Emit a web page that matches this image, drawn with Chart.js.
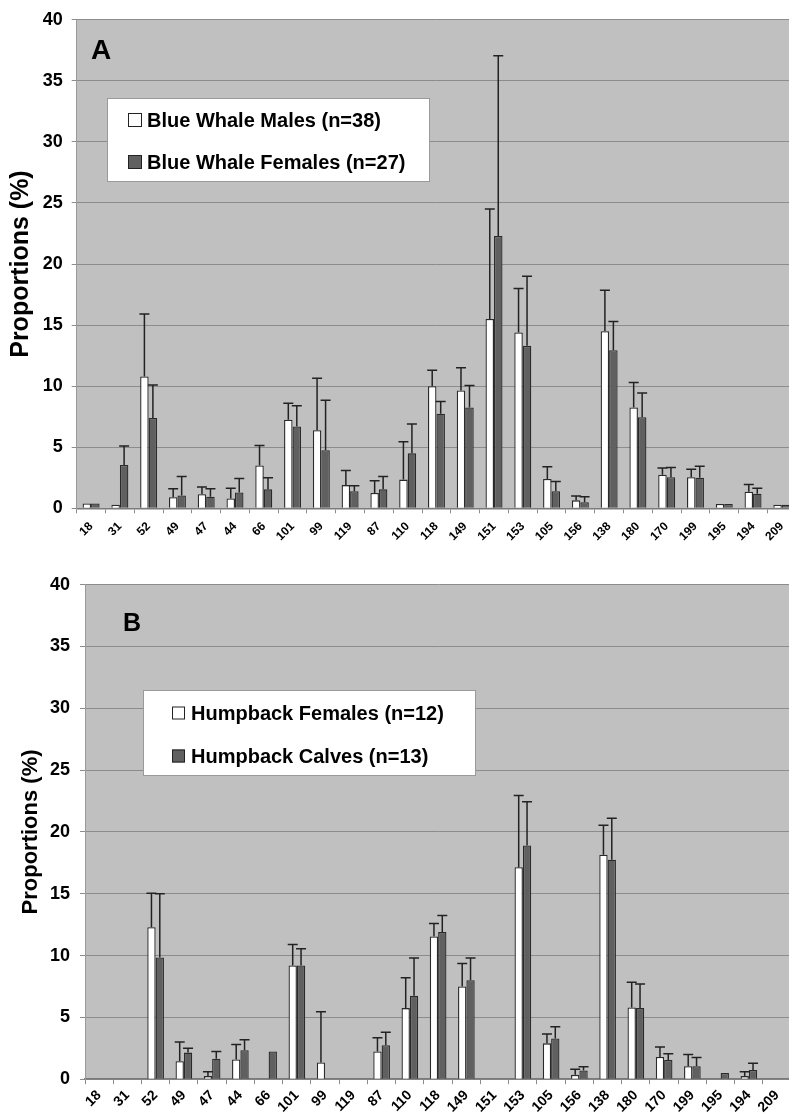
<!DOCTYPE html>
<html>
<head>
<meta charset="utf-8">
<title>Allele proportions - blue and humpback whales</title>
<script src="https://cdn.jsdelivr.net/npm/chart.js@4.4.1/dist/chart.umd.min.js"></script>
<style>
  html, body { margin: 0; padding: 0; background: #fff; overflow: hidden; }
  body { width: 789px; height: 1113px; position: relative; }
  .panel { position: absolute; left: 0; }
  #panelA { top: 0; width: 798px; height: 550px; }
  #panelB { top: 560px; width: 792px; height: 553px; }
</style>
</head>
<body>
<div class="panel" id="panelA"><canvas id="chartA"></canvas></div>
<div class="panel" id="panelB"><canvas id="chartB"></canvas></div>

<script>
// --- Data ---
const alleles = ['18', '31', '52', '49', '47', '44', '66', '101', '99', '119', '87', '110', '118',
                 '149', '151', '153', '105', '156', '138', '180', '170', '199', '195', '194', '209'];
const yTicks = [0, 5, 10, 15, 20, 25, 30, 35, 40];

// Panel A: blue whales (mean proportion and upper SD)
const blueMales     = [0.4, 0.3, 10.8, 0.9, 1.15, 0.8, 3.5, 7.25, 6.4, 1.9, 1.25, 2.35, 10.0, 9.65, 15.5, 14.4, 2.4, 0.65, 14.5, 8.25, 2.75, 2.55, 0.35, 1.35, 0.3];
const blueMalesSd   = [0, 0, 5.1, 0.7, 0.6, 0.85, 1.65, 1.35, 4.25, 1.2, 1.0, 3.1, 1.3, 1.85, 9.0, 3.6, 1.0, 0.35, 3.35, 2.05, 0.55, 0.65, 0, 0.6, 0];
const blueFemales   = [0.4, 3.55, 7.4, 1.05, 0.95, 1.3, 1.55, 6.7, 4.75, 1.4, 1.55, 4.5, 7.75, 8.25, 22.3, 13.3, 1.4, 0.5, 12.95, 7.45, 2.55, 2.5, 0.35, 1.2, 0.3];
const blueFemalesSd = [0, 1.55, 2.7, 1.55, 0.65, 1.15, 0.95, 1.7, 4.1, 0.45, 1.05, 2.4, 1.0, 1.8, 14.75, 5.7, 0.8, 0.45, 2.35, 2.0, 0.8, 0.95, 0, 0.45, 0];

// Panel B: humpback whales
const humpFemales   = [0, 0, 12.3, 1.45, 0.25, 1.6, 0, 9.2, 1.35, 0, 2.25, 5.75, 11.55, 7.5, 0, 17.15, 2.9, 0.35, 18.15, 5.8, 1.8, 1.05, 0, 0.25, 0];
const humpFemalesSd = [0, 0, 2.75, 1.55, 0.35, 1.2, 0, 1.7, 4.1, 0, 1.1, 2.45, 1.05, 1.85, 0, 5.8, 0.75, 0.45, 2.4, 2.05, 0.8, 0.95, 0, 0.35, 0];
const humpCalves    = [0, 0, 9.85, 2.15, 1.65, 2.35, 2.25, 9.2, 0, 0, 2.75, 6.75, 11.9, 8.0, 0, 18.9, 3.3, 0.7, 17.75, 5.75, 1.55, 1.05, 0.5, 0.75, 0];
const humpCalvesSd  = [0, 0, 5.15, 0.35, 0.6, 0.85, 0, 1.35, 0, 0, 1.05, 3.05, 1.35, 1.8, 0, 3.55, 0.95, 0.3, 3.35, 1.95, 0.5, 0.7, 0, 0.55, 0];

const blueLabels = ['Blue Whale Males (n=38)', 'Blue Whale Females (n=27)'];
const humpLabels = ['Humpback Females (n=12)', 'Humpback Calves (n=13)'];
const yTitle = 'Proportions (%)';

const FONT = '"Liberation Sans", Arial, sans-serif';
const WHITE = '#ffffff';
const DARK = '#606060';

// Grey plot area like the Excel original
const plotBackground = {
    id: 'plotBackground',
    beforeDraw(chart) {
        const { ctx, chartArea: a } = chart;
        ctx.save();
        ctx.fillStyle = '#c0c0c0';
        ctx.fillRect(a.left, a.top, a.right - a.left, a.bottom - a.top);
        ctx.restore();
    }
};

// Upper error bars (mean + SD) on each bar
const errorBars = {
    id: 'errorBars',
    afterDatasetsDraw(chart, args, opts) {
        const { ctx } = chart;
        const y = chart.scales.y;
        ctx.save();
        ctx.strokeStyle = '#222';
        ctx.lineWidth = 1.5;
        chart.data.datasets.forEach((ds, i) => {
            chart.getDatasetMeta(i).data.forEach((bar, j) => {
                const sd = ds.sd[j];
                if (!sd) return;
                const top = y.getPixelForValue(ds.data[j] + sd);
                ctx.beginPath();
                ctx.moveTo(bar.x, bar.y);
                ctx.lineTo(bar.x, top);
                ctx.moveTo(bar.x - opts.cap, top);
                ctx.lineTo(bar.x + opts.cap, top);
                ctx.stroke();
            });
        });
        ctx.restore();
    }
};

// Panel letter and boxed legend inside the plot
const panelDecor = {
    id: 'panelDecor',
    afterDraw(chart, args, o) {
        const { ctx } = chart;
        ctx.save();
        ctx.fillStyle = '#000';
        ctx.font = `bold ${o.letterSize}px ${FONT}`;
        ctx.textBaseline = 'alphabetic';
        ctx.fillText(o.letter, o.letterX, o.letterY);

        const L = o.legend;
        ctx.fillStyle = '#fff';
        ctx.fillRect(L.x, L.y, L.w, L.h);
        ctx.strokeStyle = '#9a9a9a';
        ctx.lineWidth = 1;
        ctx.strokeRect(L.x + 0.5, L.y + 0.5, L.w, L.h);

        ctx.font = `bold 20px ${FONT}`;
        ctx.textBaseline = 'middle';
        chart.data.datasets.forEach((ds, i) => {
            const cy = L.rows[i];
            ctx.fillStyle = ds.backgroundColor;
            ctx.fillRect(L.swatchX, cy - L.swatch / 2, L.swatch, L.swatch);
            ctx.strokeStyle = '#222';
            ctx.strokeRect(L.swatchX + 0.5, cy - L.swatch / 2 + 0.5, L.swatch - 1, L.swatch - 1);
            ctx.fillStyle = '#000';
            ctx.fillText(ds.label, L.textX, cy + 1);
        });
        ctx.restore();
    }
};

function makePanel(canvasId, p) {
    const ctx = document.getElementById(canvasId).getContext('2d');
    return new Chart(ctx, {
        type: 'bar',
        data: {
            labels: alleles,
            datasets: [
                { label: p.labels[0], data: p.first, sd: p.firstSd, backgroundColor: WHITE,
                  borderColor: '#2a2a2a', borderWidth: 1.3, borderSkipped: 'bottom' },
                { label: p.labels[1], data: p.second, sd: p.secondSd, backgroundColor: DARK,
                  borderColor: '#2a2a2a', borderWidth: 1.3, borderSkipped: 'bottom' }
            ]
        },
        options: {
            responsive: true,
            maintainAspectRatio: false,
            animation: false,
            layout: { padding: { top: p.padTop, right: 0, left: 0, bottom: 0 } },
            datasets: { bar: { categoryPercentage: 0.59, barPercentage: 1.0 } },
            scales: {
                x: {
                    grid: { offset: true, drawOnChartArea: false, drawTicks: true, tickLength: 5, color: '#8c8c8c' },
                    border: { color: '#7a7a7a', width: 1.5 },
                    ticks: {
                        autoSkip: false, maxRotation: 45, minRotation: 45,
                        padding: p.xPad, color: '#000',
                        font: { family: FONT, size: p.xFont, weight: 'bold' }
                    },
                    afterFit: s => { s.height = p.xHeight; }
                },
                y: {
                    min: 0, max: 40,
                    afterBuildTicks: s => { s.ticks = yTicks.map(v => ({ value: v })); },
                    grid: { color: '#8c8c8c', tickLength: 5 },
                    border: { color: '#9a9a9a' },
                    ticks: {
                        padding: p.yPad, color: '#000',
                        font: { family: FONT, size: 18, weight: 'bold' }
                    },
                    title: {
                        display: true, text: yTitle, color: '#000',
                        font: { family: FONT, size: p.titleSize, weight: 'bold' },
                        padding: { top: p.titlePad, bottom: 0 }
                    },
                    afterFit: s => { s.width = p.yWidth; }
                }
            },
            plugins: {
                legend: { display: false },
                tooltip: { enabled: false },
                errorBars: { cap: 5 },
                panelDecor: {
                    letter: p.letter, letterSize: p.letterSize, letterX: p.letterX, letterY: p.letterY,
                    legend: p.legend
                }
            }
        },
        plugins: [plotBackground, errorBars, panelDecor]
    });
}

// Chart A: blue whales
makePanel('chartA', {
    labels: blueLabels,
    first: blueMales, firstSd: blueMalesSd,
    second: blueFemales, secondSd: blueFemalesSd,
    padTop: 11.7, xHeight: 41.7, yWidth: 76.7, xPad: 6, xFont: 12, yPad: 9,
    titleSize: 25, titlePad: 6,
    letter: 'A', letterSize: 28, letterX: 91, letterY: 59,
    legend: { x: 107, y: 98, w: 322, h: 83, rows: [120, 162], swatchX: 128, swatch: 14, textX: 147 }
});

// Chart B: humpback whales
makePanel('chartB', {
    labels: humpLabels,
    first: humpFemales, firstSd: humpFemalesSd,
    second: humpCalves, secondSd: humpCalvesSd,
    padTop: 24.7, xHeight: 33.8, yWidth: 85, xPad: 3, xFont: 14, yPad: 10,
    titleSize: 22, titlePad: 18,
    letter: 'B', letterSize: 25, letterX: 123, letterY: 71,
    legend: { x: 143, y: 130, w: 332, h: 85, rows: [153, 196], swatchX: 172, swatch: 13, textX: 191 }
});
</script>
</body>
</html>
